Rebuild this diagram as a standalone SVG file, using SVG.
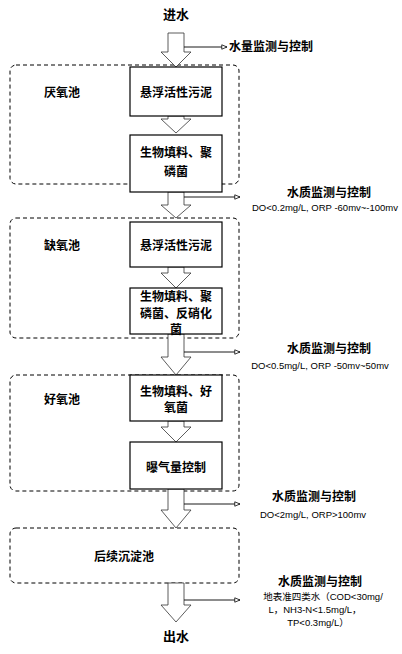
<svg xmlns="http://www.w3.org/2000/svg" width="402" height="654" viewBox="0 0 402 654">
<style>
text{font-family:"Liberation Sans","Noto Sans CJK SC",sans-serif;fill:#000}
.t{font-size:12px;text-anchor:middle;font-weight:bold}
.s{font-size:9.5px;text-anchor:middle}
.zone{fill:none;stroke:#000;stroke-width:1;stroke-dasharray:4 3}
.box{fill:#fff;stroke:#000;stroke-width:1.2}
.blk{fill:#fff;stroke:#333;stroke-width:0.8}
.mon{fill:none;stroke:#000;stroke-width:0.9;marker-end:url(#oa)}
</style>
<defs>
<marker id="oa" viewBox="0 0 8 8" refX="7" refY="4" markerWidth="7" markerHeight="7" markerUnits="userSpaceOnUse" orient="auto">
<path d="M1,1.5 L7,4 L1,6.5 Z" fill="#fff" stroke="#000" stroke-width="0.9"/>
</marker>
</defs>

<text class="t" x="176" y="19" style="font-size:13px">进水</text>
<text class="t" x="176" y="641" style="font-size:13px">出水</text>

<g id="zones">
<rect id="zone-anaerobic" class="zone" x="10" y="65" width="229" height="119" rx="6"/>
<rect id="zone-anoxic" class="zone" x="10" y="218" width="229" height="120" rx="6"/>
<rect id="zone-aerobic" class="zone" x="10" y="375" width="229" height="116" rx="6"/>
<rect id="zone-settle" class="zone" x="10" y="528" width="229" height="55" rx="6"/>
</g>

<g id="connectors">
<path id="a0" class="blk" d="M168,33 H184 V52 H191 L176,67 L161,52 H168 Z"/>
<path id="a1" class="blk" d="M168,116 H184 V119 H191 L176,133 L161,119 H168 Z"/>
<path id="a2" class="blk" d="M168,192 H184 V205 H191 L176,218 L161,205 H168 Z"/>
<path id="a3" class="blk" d="M168,267 H184 V273 H191 L176,288 L161,273 H168 Z"/>
<path id="a4" class="blk" d="M168,334 H184 V357 H191 L176,375 L161,357 H168 Z"/>
<path id="a5" class="blk" d="M168,421 H184 V427 H191 L176,442 L161,427 H168 Z"/>
<path id="a6" class="blk" d="M168,489 H184 V510 H191 L176,528 L161,510 H168 Z"/>
<path id="a7" class="blk" d="M168,583 H184 V605 H191 L176,622 L161,605 H168 Z"/>
<line class="mon" x1="184" y1="47" x2="227" y2="47"/>
<line class="mon" x1="184" y1="197" x2="240" y2="197"/>
<line class="mon" x1="184" y1="352" x2="240" y2="352"/>
<line class="mon" x1="184" y1="504" x2="240" y2="504"/>
<line class="mon" x1="184" y1="600" x2="240" y2="600"/>
</g>

<g id="labels">
<text class="t" x="62" y="97">厌氧池</text>
<text class="t" x="62" y="250">缺氧池</text>
<text class="t" x="62" y="404">好氧池</text>
<text class="t" x="124" y="561">后续沉淀池</text>
</g>

<g id="n1"><rect class="box" x="130" y="67" width="92" height="49"/><text class="t" x="176" y="97">悬浮活性污泥</text></g>
<g id="n2"><rect class="box" x="130" y="135" width="92" height="57"/><text class="t" x="176" y="157">生物填料、聚</text><text class="t" x="176" y="176">磷菌</text></g>
<g id="n3"><rect class="box" x="130" y="222" width="92" height="45"/><text class="t" x="176" y="250">悬浮活性污泥</text></g>
<g id="n4"><rect class="box" x="130" y="288" width="92" height="46"/><text class="t" x="176" y="301">生物填料、聚</text><text class="t" x="176" y="318">磷菌、反硝化</text><text class="t" x="176" y="334">菌</text></g>
<g id="n5"><rect class="box" x="130" y="375" width="92" height="46"/><text class="t" x="176" y="396">生物填料、好</text><text class="t" x="176" y="412">氧菌</text></g>
<g id="n6"><rect class="box" x="130" y="442" width="92" height="47"/><text class="t" x="176" y="472">曝气量控制</text></g>

<g id="monitors">
<text x="229" y="51" style="font-size:12px;font-weight:bold">水量监测与控制</text>
<text class="t" x="329" y="197">水质监测与控制</text>
<text class="s" x="325" y="211">DO&lt;0.2mg/L, ORP -60mv~-100mv</text>
<text class="t" x="329" y="353">水质监测与控制</text>
<text class="s" x="320" y="369">DO&lt;0.5mg/L, ORP -50mv~50mv</text>
<text class="t" x="314" y="501">水质监测与控制</text>
<text class="s" x="313" y="518">DO&lt;2mg/L, ORP&gt;100mv</text>
<text class="t" x="320" y="586">水质监测与控制</text>
<text class="s" x="323" y="600">地表准四类水（COD&lt;30mg/</text>
<text class="s" x="315" y="613">L，NH3-N&lt;1.5mg/L，</text>
<text class="s" x="318" y="626">TP&lt;0.3mg/L）</text>
</g>
</svg>
